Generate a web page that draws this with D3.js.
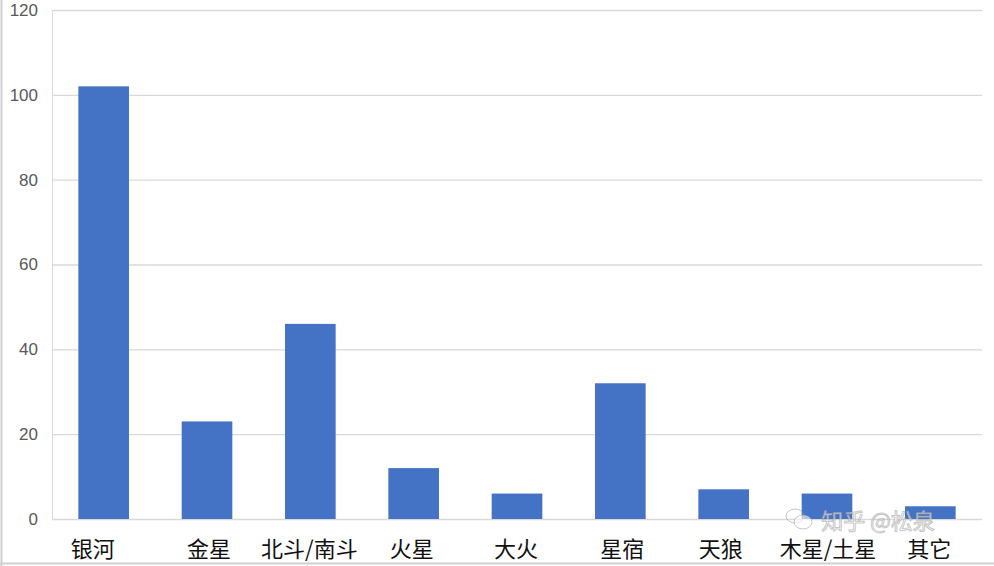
<!DOCTYPE html>
<html><head><meta charset="utf-8">
<script src="https://cdn.jsdelivr.net/npm/d3@7"></script>
<style>html,body{margin:0;padding:0;background:#fff;}svg{display:block;}</style>
</head><body>
<svg id="c" width="994" height="566"></svg>
<script>
const categories = ["银河","金星","北斗/南斗","火星","大火","星宿","天狼","木星/土星","其它"];
const values = [102, 23, 46, 12, 6, 32, 7, 6, 3];
const yTicks = [0, 20, 40, 60, 80, 100, 120];

const svg = d3.select("#c");
const W = 994, H = 566;
const m = {left: 52, right: 12, top: 10, bottom: 47};
const x = d3.scaleBand().domain(categories).range([m.left, W - m.right]).paddingInner(0.51).paddingOuter(0.255);
const y = d3.scaleLinear().domain([0, 120]).range([H - m.bottom, m.top]);

// frame
svg.append("line").attr("x1",1.5).attr("x2",1.5).attr("y1",0).attr("y2",H).attr("stroke","#d0d0d0").attr("stroke-width",2);
svg.append("line").attr("x1",0).attr("x2",W).attr("y1",H-2.5).attr("y2",H-2.5).attr("stroke","#d0d0d0").attr("stroke-width",2);

// gridlines
const yAxis = d3.axisLeft(y).tickValues(yTicks).tickSize(-(W - m.right - m.left)).tickPadding(14);
const gy = svg.append("g").attr("transform", `translate(${m.left},0)`).call(yAxis);
gy.select(".domain").attr("stroke","#d9d9d9");
gy.selectAll(".tick line").attr("stroke","#d9d9d9").attr("stroke-width",1.3);
gy.selectAll(".tick text").attr("fill","#595959").attr("font-size","17px").attr("font-family","'Liberation Sans', Arial, sans-serif");

// bars
svg.append("g").selectAll("rect").data(values).join("rect")
  .attr("x", (d,i) => x(categories[i]))
  .attr("width", x.bandwidth())
  .attr("y", d => y(d))
  .attr("height", d => y(0) - y(d))
  .attr("fill", "#4472C4");

// category labels
const labelOffsets = [-11, 2, -1, -2, -1, 2, -3, 1, -1];
svg.append("g").selectAll("text").data(categories).join("text")
  .attr("x", (d,i) => x(d) + x.bandwidth()/2 + labelOffsets[i])
  .attr("y", 557)
  .attr("text-anchor","middle")
  .attr("font-size","22px")
  .attr("font-family","'Noto Sans CJK SC', sans-serif")
  .attr("fill","#111")
  .text(d => d);

// watermark
svg.append("text").attr("x", 878).attr("y", 529).attr("text-anchor","middle")
  .attr("font-size","22px").attr("font-family","'Noto Sans CJK SC', sans-serif")
  .attr("fill","rgba(255,255,255,0.6)").attr("stroke","rgba(150,150,150,0.55)").attr("stroke-width",1)
  .text("知乎 @松泉");
svg.append("g").attr("transform","translate(795,518)").call(g => {
  g.append("ellipse").attr("rx",9).attr("ry",7).attr("cx",0).attr("cy",-2).attr("fill","none").attr("stroke","rgba(150,150,150,0.55)");
  g.append("ellipse").attr("rx",9).attr("ry",7).attr("cx",8).attr("cy",4).attr("fill","rgba(255,255,255,0.6)").attr("stroke","rgba(150,150,150,0.55)");
});
</script>
</body></html>
